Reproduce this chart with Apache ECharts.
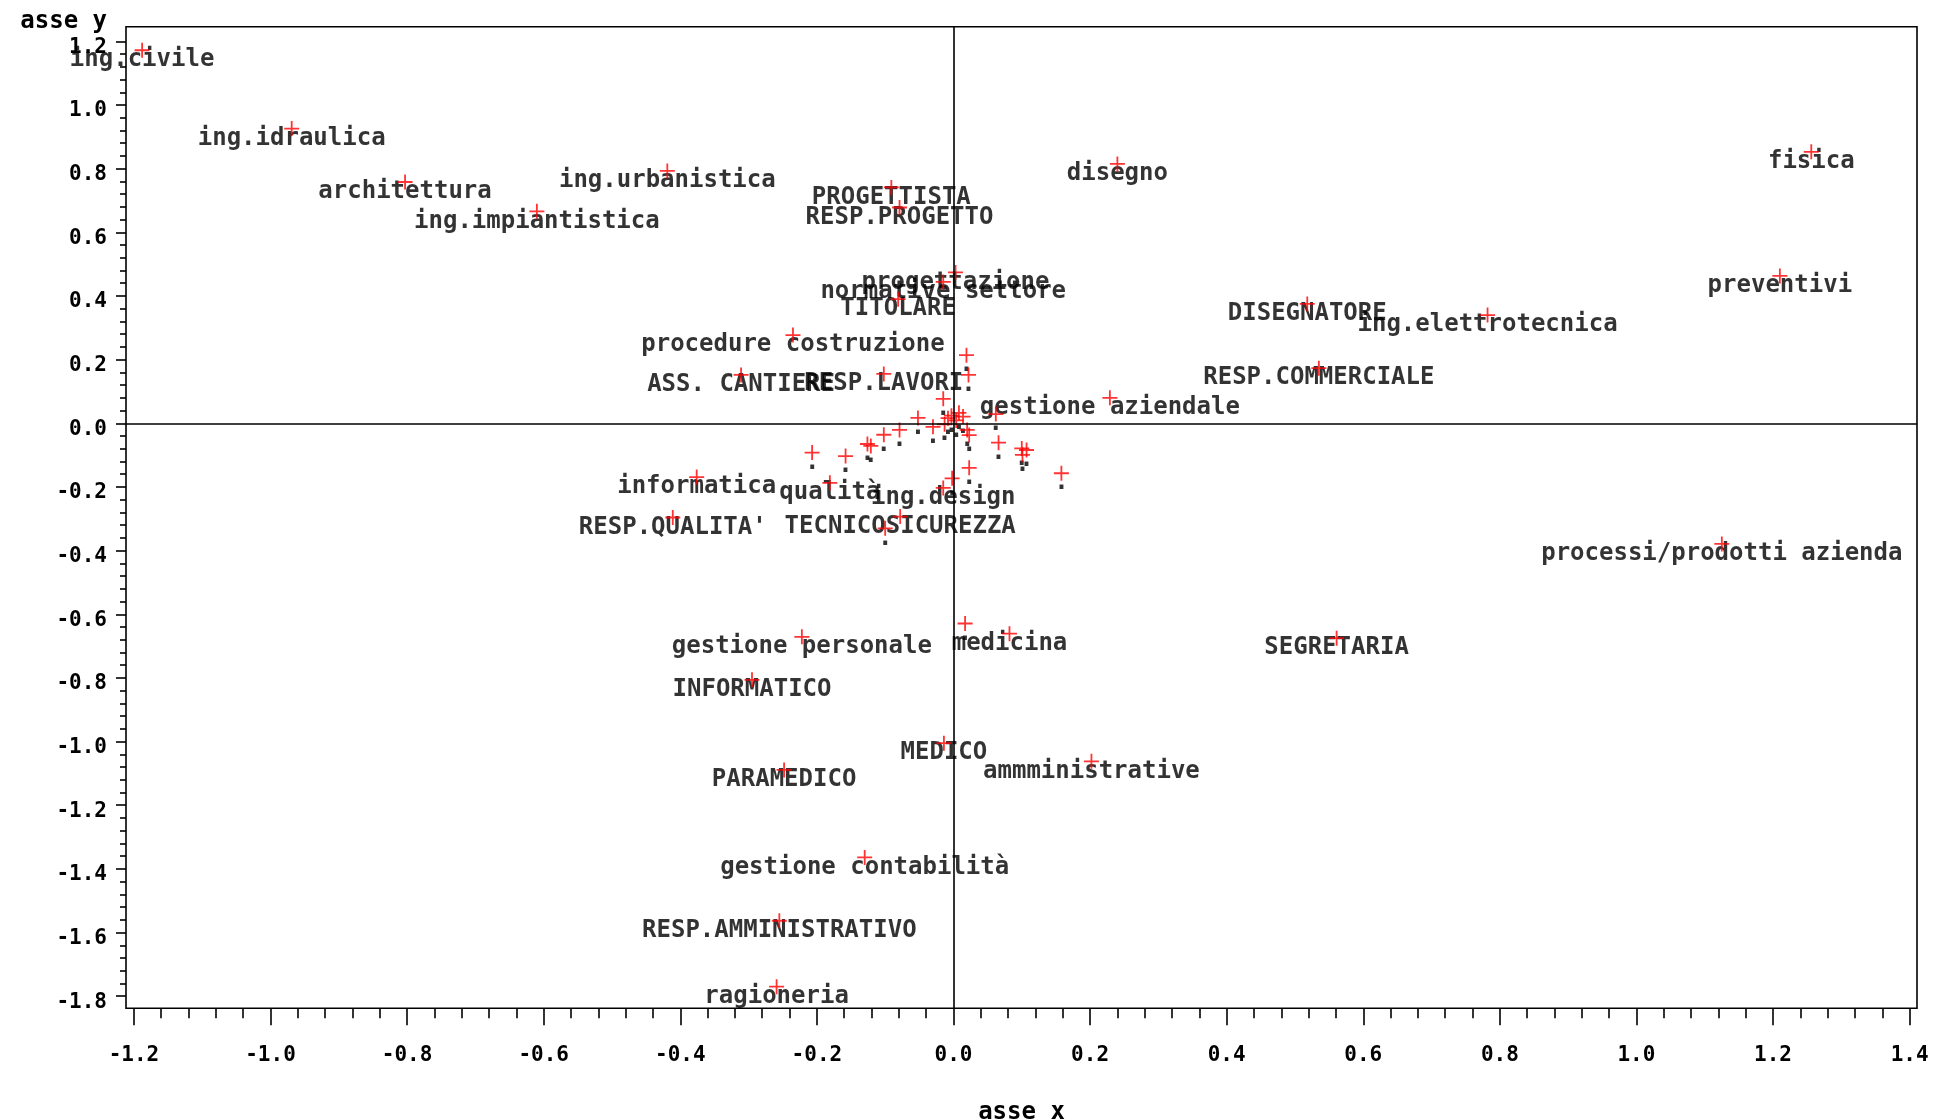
<!DOCTYPE html>
<html>
<head>
<meta charset="utf-8">
<script src="https://cdn.jsdelivr.net/npm/echarts@6/dist/echarts.min.js"></script>
<style>
html,body{margin:0;padding:0;background:#ffffff;}
#chart{width:1933px;height:1120px;}
</style>
</head>
<body>
<div id="chart"></div>
<script>
// ---- data ----
const pointLabels = [
  'ing.civile','ing.idraulica','architettura','ing.urbanistica','ing.impiantistica',
  'disegno','PROGETTISTA','RESP.PROGETTO','progettazione','normative settore',
  'TITOLARE','DISEGNATORE','ing.elettrotecnica','fisica','preventivi',
  'procedure costruzione','ASS. CANTIERE','RESP.LAVORI','RESP.COMMERCIALE','gestione aziendale',
  'informatica','qualità','ing.design',"RESP.QUALITA'",'TECNICOSICUREZZA',
  'processi/prodotti azienda','gestione personale','medicina','SEGRETARIA','INFORMATICO',
  'MEDICO','ammministrative','PARAMEDICO','gestione contabilità','RESP.AMMINISTRATIVO',
  'ragioneria',
  '.','.','.','.','.','.','.','.','.','.',
  '.','.','.','.','.','.','.','.','.','.',
  '.','.','.','.','.','.','.','.','.'
];
const pointX = [
  -1.188,-0.969,-0.803,-0.419,-0.610,
  0.240,-0.091,-0.079,0.003,-0.015,
  -0.081,0.518,0.782,1.256,1.210,
  -0.235,-0.311,-0.102,0.535,0.229,
  -0.376,-0.181,-0.015,-0.411,-0.078,
  1.125,-0.222,0.082,0.561,-0.295,
  -0.014,0.202,-0.248,-0.130,-0.255,
  -0.259,
  0.019,0.022,-0.015,0.062,-0.052,-0.008,-0.003,0.008,0.014,0.004,
  -0.013,-0.030,0.020,0.023,-0.079,-0.102,-0.126,-0.121,0.066,0.100,
  0.107,0.101,-0.207,-0.158,0.023,0.158,-0.002,-0.100,0.017
];
const pointY = [
  1.172,0.926,0.758,0.793,0.666,
  0.815,0.741,0.678,0.474,0.444,
  0.390,0.375,0.340,0.853,0.463,
  0.277,0.152,0.155,0.173,0.080,
  -0.169,-0.187,-0.203,-0.296,-0.293,
  -0.379,-0.671,-0.661,-0.675,-0.806,
  -1.005,-1.062,-1.089,-1.364,-1.563,
  -1.770,
  0.214,0.152,0.077,0.029,0.017,0.016,0.024,0.033,0.021,0.009,
  -0.003,-0.011,-0.021,-0.037,-0.021,-0.036,-0.065,-0.071,-0.061,-0.079,
  -0.084,-0.099,-0.092,-0.103,-0.140,-0.157,-0.173,-0.330,-0.629
];
const xTickLabels = [-1.2,-1.0,-0.8,-0.6,-0.4,-0.2,0.0,0.2,0.4,0.6,0.8,1.0,1.2,1.4];
const yTickLabels = [-1.8,-1.6,-1.4,-1.2,-1.0,-0.8,-0.6,-0.4,-0.2,0.0,0.2,0.4,0.6,0.8,1.0,1.2];
const xTitle = 'asse x';
const yTitle = 'asse y';

// ---- layout / style ----
const X_MIN = -1.2116, X_MAX = 1.4108;
const Y_MIN = -1.838, Y_MAX = 1.246;
const FONT = 'DejaVu Sans Mono';

function minorTicks(majors) {
  const out = [];
  for (let i = 0; i < majors.length - 1; i++) {
    const a = majors[i], b = majors[i + 1];
    for (let k = 1; k < 5; k++) out.push(a + (b - a) * k / 5);
  }
  return out;
}

const points = pointX.map((x, i) => [x, pointY[i], pointLabels[i]]);

const tickLabelStyle = {
  fontFamily: FONT, fontSize: 21, fontWeight: 'bold', color: '#000'
};

const plusPath = 'path://M7.5,0 L7.5,15 M0,7.5 L15,7.5';
const hiddenLine = {show: false, onZero: false};

const chart = echarts.init(document.getElementById('chart'), null, {renderer: 'canvas'});
chart.setOption({
  animation: false,
  backgroundColor: '#ffffff',
  grid: {
    left: 126, right: 16, top: 26.7, bottom: 111.7,
    containLabel: false, outerBoundsMode: 'none',
    show: true, borderColor: '#000', borderWidth: 1.6, backgroundColor: 'transparent'
  },
  xAxis: [
    {
      type: 'value', min: X_MIN, max: X_MAX, position: 'bottom',
      axisLine: hiddenLine, splitLine: {show: false},
      axisTick: {show: true, customValues: xTickLabels, length: 17,
                 lineStyle: {color: '#000', width: 1.6}},
      axisLabel: {show: true, customValues: xTickLabels, margin: 37,
                  formatter: v => v.toFixed(1), ...tickLabelStyle},
      name: xTitle, nameLocation: 'middle', nameGap: 92,
      nameTextStyle: {fontFamily: FONT, fontSize: 24, fontWeight: 'bold', color: '#000'}
    },
    {
      type: 'value', min: X_MIN, max: X_MAX, position: 'bottom',
      axisLine: hiddenLine, splitLine: {show: false}, axisLabel: {show: false},
      axisTick: {show: true, customValues: minorTicks(xTickLabels), length: 10,
                 lineStyle: {color: '#000', width: 1.6}}
    }
  ],
  yAxis: [
    {
      type: 'value', min: Y_MIN, max: Y_MAX, position: 'left',
      axisLine: hiddenLine, splitLine: {show: false},
      axisTick: {show: true, customValues: yTickLabels, length: 10,
                 lineStyle: {color: '#000', width: 1.6}},
      axisLabel: {show: true, customValues: yTickLabels, margin: 19,
                  verticalAlign: 'top', lineHeight: 12,
                  formatter: v => v.toFixed(1), ...tickLabelStyle},
      name: yTitle, nameLocation: 'end', nameGap: -7,
      nameTextStyle: {fontFamily: FONT, fontSize: 24, fontWeight: 'bold', color: '#000',
                      align: 'right', verticalAlign: 'bottom', padding: [0, 19, 0, 0]}
    },
    {
      type: 'value', min: Y_MIN, max: Y_MAX, position: 'left',
      axisLine: hiddenLine, splitLine: {show: false}, axisLabel: {show: false},
      axisTick: {show: true, customValues: minorTicks(yTickLabels), length: 6,
                 lineStyle: {color: '#000', width: 1.6}}
    }
  ],
  series: [
    {
      name: 'labels', type: 'scatter', xAxisIndex: 0, yAxisIndex: 0, z: 2,
      data: points, symbol: 'circle', symbolSize: 1,
      itemStyle: {color: 'transparent'},
      silent: true,
      label: {
        show: true, position: 'inside', offset: [0, 10],
        formatter: p => p.data[2],
        fontFamily: FONT, fontSize: 24, fontWeight: 'bold', color: '#000'
      },
      markLine: {
        silent: true, symbol: ['none', 'none'], label: {show: false},
        lineStyle: {color: '#000', width: 1.6, type: 'solid'},
        data: [{xAxis: 0}, {yAxis: 0}]
      }
    },
    {
      name: 'points', type: 'scatter', xAxisIndex: 0, yAxisIndex: 0, z: 3,
      data: points, symbol: plusPath, symbolSize: 15,
      silent: true,
      itemStyle: {color: 'transparent', borderColor: '#ff0000', borderWidth: 1.8},
      label: {show: false}
    }
  ]
});
</script>
</body>
</html>
